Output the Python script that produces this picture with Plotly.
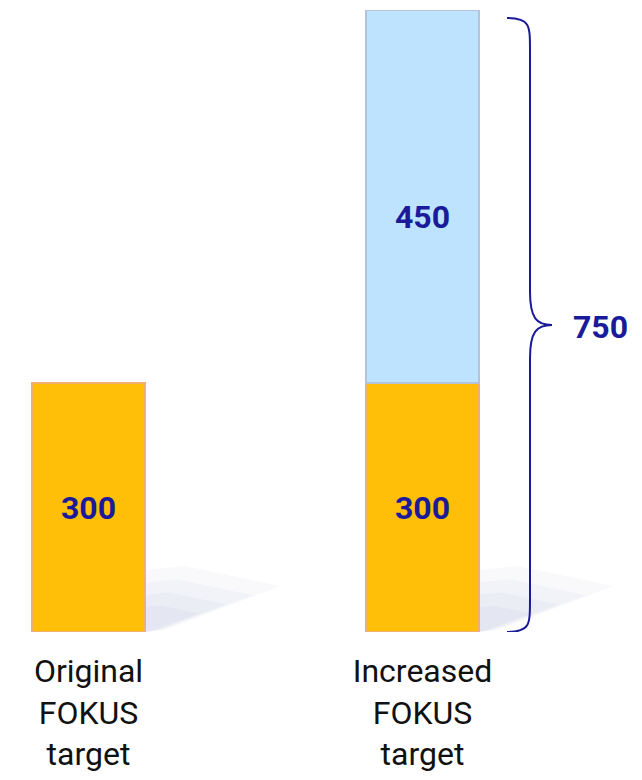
import plotly.graph_objects as go

# ---- data ----
categories = ["Original<br>FOKUS<br>target", "Increased<br>FOKUS<br>target"]
original_target = [300, 300]
increase = [None, 450]
total_label = "750"
total_value = 750

# ---- layout geometry (pixels of the 642x780 canvas) ----
OFF = 8  # page body margin
W, H = 642, 780
M_T, M_B = 10 - OFF, H - (632 - OFF)
PLOT_H = H - M_T - M_B
Y_MAX = 750
X0_PX, X_UNIT = 88.5 - OFF, 334.0
x_range = [-X0_PX / X_UNIT, (W - X0_PX) / X_UNIT]


def dx(px):
    return (px - OFF - X0_PX) / X_UNIT


def dy(py):
    return (H - M_B - (py - OFF)) / PLOT_H * Y_MAX


NAVY = "#1a1a9a"
fig = go.Figure()

# soft shadows behind the bars
for bx in (145, 478):
    for a, s in ((0.07, 1.0), (0.08, 0.8), (0.09, 0.6), (0.10, 0.4)):
        fig.add_shape(
            type="path", xref="x", yref="y", layer="below",
            path=(f"M {dx(bx)},{dy(632)} L {dx(bx)},{dy(632-62*s)} "
                  f"L {dx(bx+40*s)},{dy(632-66*s)} L {dx(bx+135*s)},{dy(632-46*s)} "
                  f"L {dx(bx+20*s)},{dy(630)} Z"),
            fillcolor=f"rgba(170,175,215,{a})", line=dict(width=0),
        )

fig.add_trace(go.Bar(
    x=[0, 1], y=original_target, width=0.337,
    marker=dict(color="#FFBE08", line=dict(color="#EDB070", width=2)),
    text=original_target, texttemplate="%{y}", textposition="inside",
    insidetextanchor="middle",
    textfont=dict(family="Roboto", size=32, color=NAVY, weight="bold"),
    hoverinfo="skip",
))
fig.add_trace(go.Bar(
    x=[0, 1], y=increase, width=0.337,
    marker=dict(color="#BDE3FF", line=dict(color="#B4C2DA", width=2)),
    text=increase, texttemplate=" <br>%{y}", textposition="inside",
    insidetextanchor="middle",
    textfont=dict(family="Roboto", size=32, color=NAVY, weight="bold"),
    hoverinfo="skip",
))

# curly brace spanning the stacked total
xa, xb, xt = dx(507), dx(530), dx(552)
top, bot = dy(18), dy(632)
mid = dy(325)
k = 40
brace = (
    f"M {xa},{top} C {xb},{top} {xb},{top-k*0.2} {xb},{top-k} "
    f"L {xb},{mid+k} C {xb},{mid+8} {xb+0.02},{mid} {xt},{mid} "
    f"C {xb+0.02},{mid} {xb},{mid-8} {xb},{mid-k} "
    f"L {xb},{bot+k} C {xb},{bot+k*0.2} {xb},{bot} {xa},{bot}"
)
fig.add_shape(type="path", xref="x", yref="y", path=brace,
              line=dict(color=NAVY, width=2))

fig.add_annotation(
    x=dx(600), y=dy(327), text=total_label, showarrow=False,
    font=dict(family="Roboto", size=32, color=NAVY, weight="bold"),
)

fig.update_layout(
    width=W, height=H, barmode="stack", showlegend=False,
    margin=dict(l=0, r=0, t=M_T, b=M_B),
    paper_bgcolor="white", plot_bgcolor="white",
    xaxis=dict(range=x_range, tickvals=[0, 1], ticktext=categories,
               showgrid=False, zeroline=False, showline=False, ticks="",
               tickfont=dict(family="Roboto", size=32, color="#111111"),
               ticklabelstandoff=17),
    yaxis=dict(range=[0, Y_MAX], visible=False),
)

fig.write_html("out.html")
